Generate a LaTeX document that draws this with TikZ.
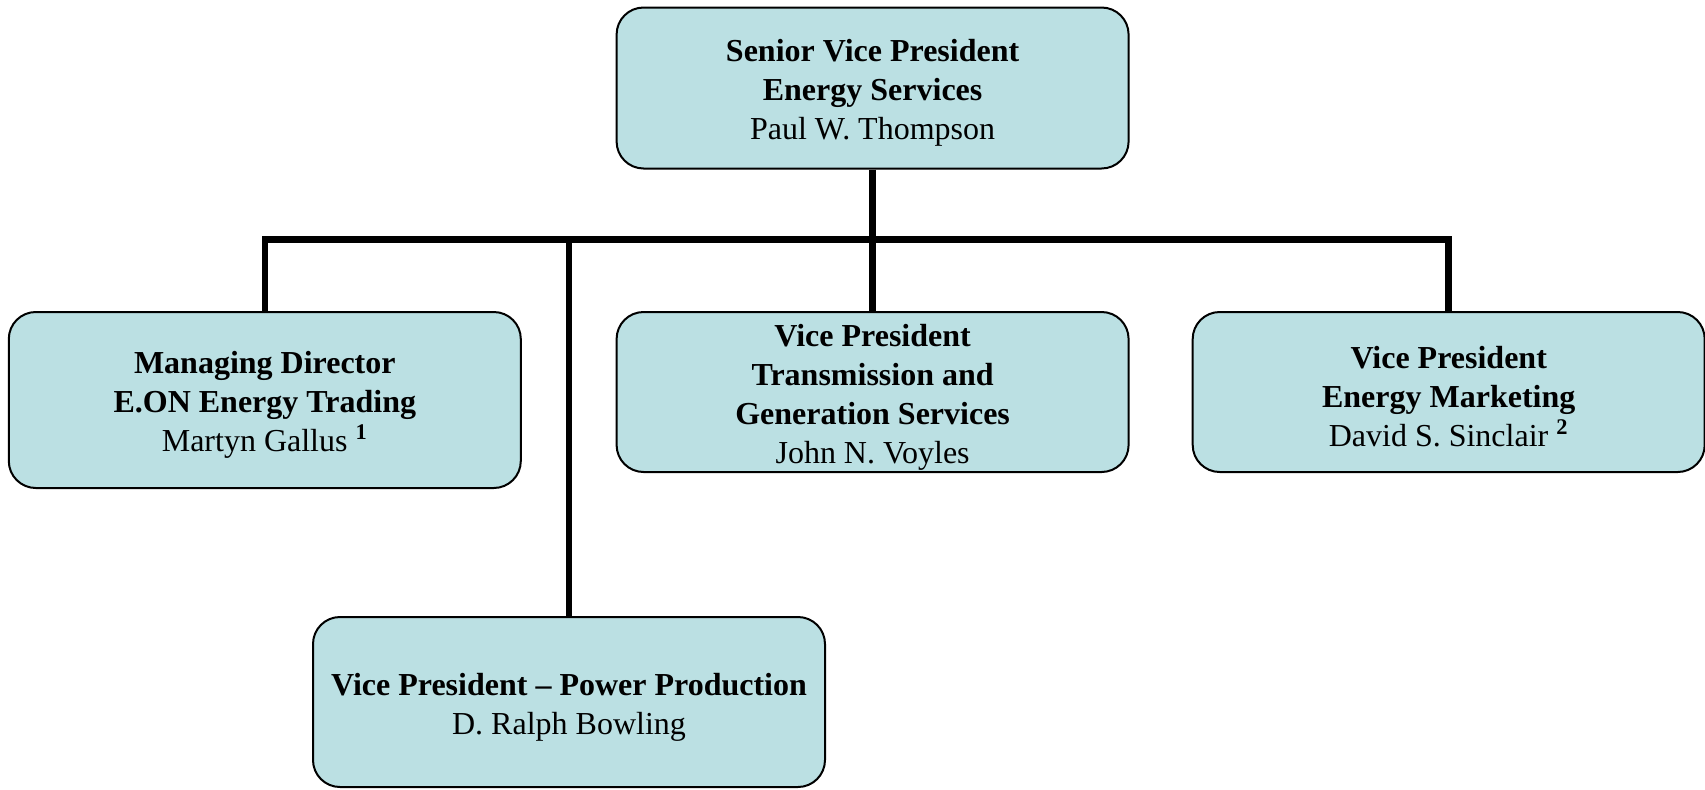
\documentclass[tikz,border=0pt]{standalone}
\usepackage{fontspec}
\setmainfont{Liberation Serif}
\usepackage{tikz}
\definecolor{boxblue}{RGB}{187,224,227}
\newcommand{\topstrut}{\rule{0pt}{16pt}}
\tikzset{
	office/.style={draw=black,line width=1pt,fill=boxblue,rounded corners=13.5pt,
		align=center,inner sep=0pt,minimum width=256pt,
		font=\fontsize{16}{19.5}\selectfont},
	link/.style={line width=3.25pt}
}

\begin{document}
\begin{tikzpicture}[x=0.5pt,y=-0.5pt]
	\useasboundingbox (0,0) rectangle (1705,789);
	\node[office,minimum height=80.5pt] (SVP) at (872.6,88) {\topstrut\textbf{Senior Vice President}\\\textbf{Energy Services}\\Paul W. Thompson};
	\node[office,minimum height=88pt] (MD) at (264.8,400) {\topstrut\textbf{Managing Director}\\\textbf{E.ON Energy Trading}\\Martyn Gallus \textsuperscript{\textbf{1}}};
	\node[office,minimum height=80pt] (VPT) at (872.6,392) {\topstrut\textbf{Vice President}\\\textbf{Transmission and}\\\textbf{Generation Services}\\John N. Voyles};
	\node[office,minimum height=80pt] (VPM) at (1448.7,392) {\topstrut\textbf{Vice President}\\\textbf{Energy Marketing}\\David S. Sinclair \textsuperscript{\textbf{2}}};
	\node[office,minimum height=85pt] (VPP) at (569,702) {\topstrut\textbf{Vice President -- Power Production}\\D. Ralph Bowling};
	\coordinate (bar) at (872.6,239.5);
	\draw[link] (SVP) -- (VPT);
	\draw[link] (MD.north) |- (bar) -| (VPM.north);
	\draw[link] (VPP.north) -- (VPP.north |- bar);
\end{tikzpicture}
\end{document}
